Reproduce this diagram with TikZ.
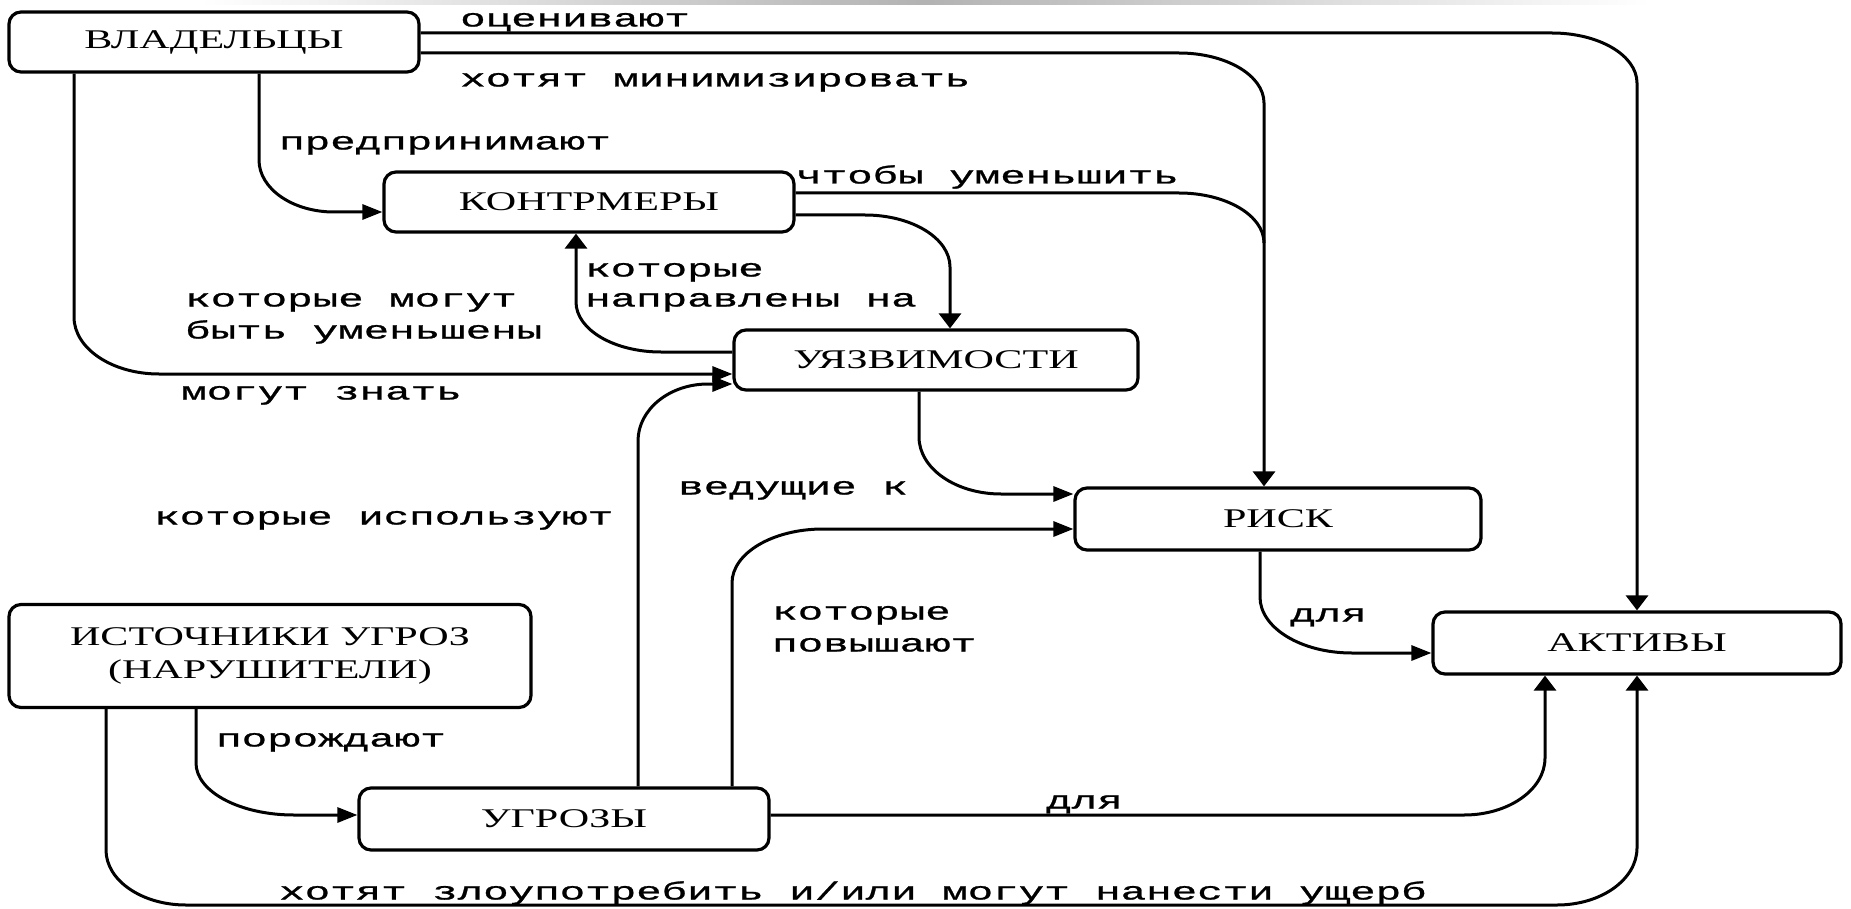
\documentclass[tikz,border=0pt]{standalone}
\usepackage{fontspec}
\setmainfont{Liberation Serif}
\newfontfamily\boxf[FakeStretch=1.56]{Liberation Serif}
\newfontfamily\labf[FakeStretch=1.7,FakeBold=1]{Liberation Mono}
\usetikzlibrary{arrows.meta}
\begin{document}
\begin{tikzpicture}[x=1pt,y=-1pt,
  box/.style={draw, line width=3.2pt, rounded corners=12pt, inner sep=0pt,
    font=\boxf\fontsize{27}{33}\selectfont, align=center},
  lab/.style={anchor=base west, inner sep=0pt, font=\labf\fontsize{25}{30}\selectfont},
  conn/.style={line width=3pt},
  harr/.style={conn, -{Triangle[length=20pt,width=15pt]}},
  varr/.style={conn, -{Triangle[length=15pt,width=22pt]}}]
\useasboundingbox (0,0) rectangle (1851,909);
\fill[white] (0,0) rectangle (1851,909);
\shade[left color=white,right color=white,middle color=gray!60] (200,0) rectangle (1650,5);

% boxes
\node[box, minimum width=410pt, minimum height=60pt] (own) at (214,42) {ВЛАДЕЛЬЦЫ};
\node[box, minimum width=410pt, minimum height=60pt] (cm) at (589,202) {КОНТРМЕРЫ};
\node[box, minimum width=404pt, minimum height=60pt] (vul) at (936,360) {УЯЗВИМОСТИ};
\node[box, minimum width=406pt, minimum height=62pt] (risk) at (1278,519) {РИСК};
\node[box, minimum width=408pt, minimum height=62pt] (assets) at (1637,643) {АКТИВЫ};
\node[box, minimum width=522pt, minimum height=103pt] (src) at (270,656) {ИСТОЧНИКИ УГРОЗ\\(НАРУШИТЕЛИ)};
\node[box, minimum width=410pt, minimum height=62pt] (thr) at (564,819) {УГРОЗЫ};

% labels
\node[lab] (l1) at (460,26.5) {оценивают};
\node[lab] (l2) at (460,86.5) {хотят минимизировать};
\node[lab] (l3) at (279,149.5) {предпринимают};
\node[lab] (l4) at (796,183.5) {чтобы уменьшить};
\node[lab] (l5a) at (185,306.5) {которые могут};
\node[lab] (l5b) at (185,338.5) {быть уменьшены};
\node[lab] (l6a) at (585,276.5) {которые};
\node[lab] (l6b) at (585,306.5) {направлены на};
\node[lab] (l7) at (181,399.5) {могут знать};
\node[lab] (l8) at (154,524.5) {которые используют};
\node[lab] (l9) at (678,494.5) {ведущие к};
\node[lab] (l10a) at (772,619.5) {которые};
\node[lab] (l10b) at (772,651.5) {повышают};
\node[lab] (l11) at (1290,621.5) {для};
\node[lab] (l12) at (1046,808.5) {для};
\node[lab] (l13) at (216,746.5) {порождают};
\node[lab] (l14) at (279,899.5) {хотят злоупотребить и/или могут нанести ущерб};

% connectors
\draw[varr] (own.east |- 0,33) -- (1552,33) arc[start angle=270,end angle=360,x radius=85,y radius=50] -- (assets.north);
\draw[varr] (own.east |- 0,53) -- (1179,53) arc[start angle=270,end angle=360,x radius=85,y radius=50] -- ([xshift=-14pt]risk.north);
\draw[conn] (cm.east |- 0,193) -- (1179,193) arc[start angle=270,end angle=360,x radius=85,y radius=50];
\draw[varr] (cm.east |- 0,215) -- (865,215) arc[start angle=270,end angle=360,x radius=85,y radius=52] -- ([xshift=14pt]vul.north);
\draw[varr] (vul.west |- 0,352) -- (661,352) arc[start angle=90,end angle=180,x radius=85,y radius=50] -- ([xshift=-13pt]cm.south);
\draw[harr] (own.south -| 74,0) -- (74,317) arc[start angle=180,end angle=90,x radius=85,y radius=57] -- (vul.west |- 0,374);
\draw[harr] (thr.north -| 638,0) -- (638,441) arc[start angle=180,end angle=270,x radius=70,y radius=57] -- (vul.west |- 0,384);
\draw[harr] (thr.north -| 732,0) -- (732,583) arc[start angle=180,end angle=270,x radius=91,y radius=54] -- (risk.west |- 0,529);
\draw[harr] (vul.south -| 919,0) -- (919,437) arc[start angle=180,end angle=90,x radius=82,y radius=57] -- (risk.west |- 0,494);
\draw[harr] (risk.south -| 1260,0) -- (1260,597) arc[start angle=180,end angle=90,x radius=92,y radius=56] -- (assets.west |- 0,653);
\draw[varr] (thr.east |- 0,815) -- (1464,815) arc[start angle=90,end angle=0,x radius=81,y radius=57] -- (assets.south -| 1545,0);
\draw[varr] (src.south -| 106,0) -- (106,850) arc[start angle=180,end angle=90,x radius=80,y radius=55] -- (1557,905) arc[start angle=90,end angle=0,x radius=80,y radius=57] -- (assets.south);
\draw[harr] (src.south -| 196,0) -- (196,763) arc[start angle=180,end angle=90,x radius=98,y radius=52] -- (thr.west |- 0,815);
\draw[harr] (own.south -| 259,0) -- (259,160) arc[start angle=180,end angle=90,x radius=75,y radius=52] -- (cm.west |- 0,212);
\end{tikzpicture}
\end{document}
